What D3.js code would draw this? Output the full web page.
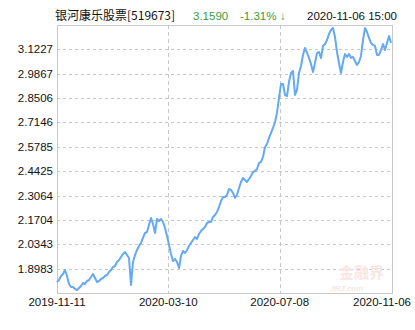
<!DOCTYPE html>
<html><head><meta charset="utf-8">
<script src="https://cdn.jsdelivr.net/npm/d3@7"></script>
<style>body{margin:0;background:#fff}svg{display:block}</style>
</head><body>
<svg id="c" width="415" height="330"></svg>
<script>
const fundName = "银河康乐股票[519673]";
const lastPrice = "3.1590";
const changePct = "-1.31%";
const changeArrow = "↓";
const stamp = "2020-11-06 15:00";
const yTickLabels = ["1.8983","2.0343","2.1704","2.3064","2.4425","2.5785","2.7146","2.8506","2.9867","3.1227"];
const yDomain = [1.7622, 3.2588];
const xTickLabels = ["2019-11-11","2020-03-10","2020-07-08","2020-11-06"];
const navValues = [
1.8236,1.8348,1.8571,1.8683,1.8907,1.8571,1.8125,1.7957,1.7957,1.7845,
1.7790,1.7901,1.8013,1.8181,1.8125,1.8292,1.8348,1.8516,1.8683,1.8460,
1.8236,1.8292,1.8404,1.8460,1.8571,1.8627,1.8795,1.8907,1.9074,1.9130,
1.9353,1.9465,1.9633,1.9800,1.9912,1.9744,1.9577,1.8069,1.9353,1.9744,
2.0024,2.0247,2.0415,2.0694,2.0973,2.1029,2.1420,2.1811,2.1476,2.0973,
2.1755,2.1643,2.1755,2.1587,2.1252,2.0805,2.0303,1.9800,1.9409,1.9521,
1.9353,1.9018,1.9688,1.9968,1.9856,2.0024,2.0247,2.0415,2.0582,2.0750,
2.0638,2.0917,2.1085,2.1196,2.1308,2.1532,2.1587,2.1587,2.1867,2.1978,
2.2146,2.2425,2.2760,2.2984,2.2984,2.3095,2.3430,2.3375,2.3207,2.2928,
2.3095,2.3486,2.3821,2.4045,2.3933,2.3821,2.3989,2.4156,2.4380,2.4436,
2.4547,2.4883,2.4938,2.5218,2.5776,2.5944,2.6279,2.6558,2.6837,2.7172,
2.7675,2.8513,2.9295,2.9295,2.8680,2.8624,2.9406,2.9909,3.0021,2.8680,
2.8960,2.9909,3.0300,3.0914,3.1305,3.1026,3.0747,3.0412,2.9965,3.0468,
3.1026,3.1082,3.0747,3.1417,3.1529,3.1752,3.2087,3.2311,3.2422,3.1920,
3.1082,3.0468,2.9909,3.0523,3.0970,3.0803,3.0970,3.0747,3.0803,3.0579,
3.0356,3.0523,3.0858,3.1752,3.2422,3.2199,3.1864,3.1585,3.1473,3.1417,
3.0914,3.0914,3.1194,3.1529,3.1194,3.1585,3.1975,3.1590
];

const svg = d3.select("#c");
const L = 57, R = 392, T = 25, B = 293;
const x = d3.scaleLinear().domain([0, navValues.length - 1]).range([L, R - 1]);
const y = d3.scaleLinear().domain(yDomain).range([B, T]);
const numFont = "'Liberation Sans', Arial, sans-serif";

// horizontal grid
svg.append("g").selectAll("line").data(yTickLabels).join("line")
  .attr("x1", L).attr("x2", R)
  .attr("y1", d => Math.round(y(+d)) + 0.5).attr("y2", d => Math.round(y(+d)) + 0.5)
  .attr("stroke", "#c8c8c8").attr("stroke-dasharray", "3,3");

// vertical grid
const xTickIdx = xTickLabels.map((d, i) => i * (navValues.length - 1) / (xTickLabels.length - 1));
svg.append("g").selectAll("line").data(xTickIdx.slice(1, -1)).join("line")
  .attr("x1", d => Math.round(x(d)) + 0.5).attr("x2", d => Math.round(x(d)) + 0.5)
  .attr("y1", T).attr("y2", B)
  .attr("stroke", "#c8c8c8").attr("stroke-dasharray", "4,3");

// frame
svg.append("rect").attr("x", L + 0.5).attr("y", T + 0.5).attr("width", R - L).attr("height", B - T)
  .attr("fill", "none").attr("stroke", "#c8c8c8");

// watermark
const wm = svg.append("g").attr("fill", "#f8e6e6");
wm.append("text").attr("x", 384).attr("y", 278).attr("text-anchor", "end")
  .attr("font-family", "'Noto Sans CJK SC'").attr("font-size", 15).attr("font-weight", "bold").text("金融界");
wm.append("text").attr("x", 330).attr("y", 291)
  .attr("font-family", numFont).attr("font-size", 8).attr("font-style", "italic").attr("font-weight", "bold").text("JRJ.com");

// line
svg.append("path").datum(navValues)
  .attr("d", d3.line().x((d, i) => x(i)).y(d => y(d)))
  .attr("fill", "none").attr("stroke", "#64a9f4").attr("stroke-width", 2).attr("stroke-linejoin", "round");

// y labels
svg.append("g").selectAll("text").data(yTickLabels).join("text")
  .attr("x", 53).attr("y", d => y(+d) + 4).attr("text-anchor", "end")
  .attr("font-family", numFont).attr("font-size", 11.5).attr("fill", "#111").text(d => d);

// x labels
svg.append("g").selectAll("text").data(xTickLabels).join("text")
  .attr("x", (d, i) => i === xTickLabels.length - 1 ? 411 : x(xTickIdx[i]))
  .attr("y", 306)
  .attr("text-anchor", (d, i) => i === xTickLabels.length - 1 ? "end" : "middle")
  .attr("font-family", numFont).attr("font-size", 11.5).attr("fill", "#111").text(d => d);

// title
svg.append("text").attr("x", 55).attr("y", 20).attr("font-family", "'Noto Sans CJK SC'").attr("font-size", 12).attr("fill", "#111").text(fundName);
svg.append("text").attr("x", 193).attr("y", 20).attr("font-family", numFont).attr("font-size", 11.5).attr("fill", "#3b9a3b").text(lastPrice);
svg.append("text").attr("x", 240).attr("y", 20).attr("font-family", numFont).attr("font-size", 11.5).attr("fill", "#3b9a3b").text(changePct);
svg.append("text").attr("x", 280).attr("y", 20).attr("font-family", numFont).attr("font-size", 11.5).attr("fill", "#3b9a3b").text(changeArrow);
svg.append("text").attr("x", 307).attr("y", 20).attr("font-family", numFont).attr("font-size", 11.5).attr("fill", "#111").text(stamp);
</script>
</body></html>
